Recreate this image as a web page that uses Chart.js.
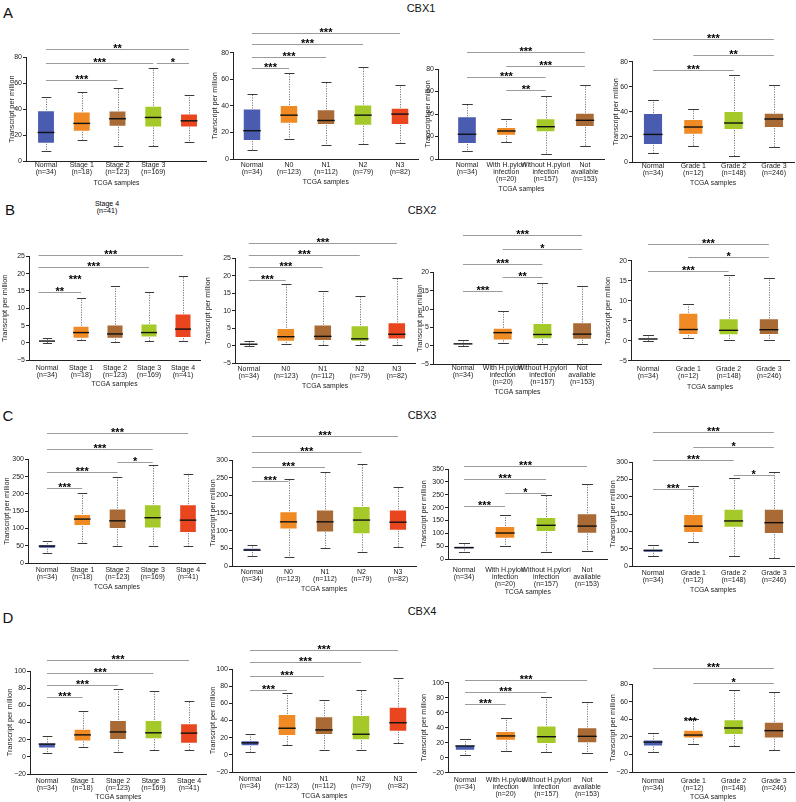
<!DOCTYPE html>
<html><head><meta charset="utf-8">
<script src="https://cdn.jsdelivr.net/npm/chart.js@4.4.0/dist/chart.umd.min.js"></script>
<style>
html,body{margin:0;padding:0;background:#fff;}
body{width:796px;height:802px;position:relative;overflow:hidden;font-family:'Liberation Sans',Arial,sans-serif;color:#111;-webkit-font-smoothing:antialiased;}
canvas{position:absolute;}
.t{position:absolute;transform:translate(-50%,-50%);white-space:nowrap;line-height:1;}
.s{position:absolute;white-space:nowrap;line-height:7px;font-size:7px;color:#000;text-align:center;width:40px;}
</style></head><body>
<div class="t" style="left:8px;top:12px;font-size:15px">A</div>
<div class="t" style="left:10px;top:209px;font-size:15px">B</div>
<div class="t" style="left:8px;top:415px;font-size:15px">C</div>
<div class="t" style="left:8px;top:617px;font-size:15px">D</div>
<div class="t" style="left:421px;top:8px;font-size:11px">CBX1</div>
<div class="t" style="left:422px;top:209.5px;font-size:11px">CBX2</div>
<div class="t" style="left:422px;top:414.5px;font-size:11px">CBX3</div>
<div class="t" style="left:422px;top:611px;font-size:11px">CBX4</div>
<div class="s" style="left:87px;top:200px">Stage 4<br>(n=41)</div>
<script>
// ---- categories ----
const stageCats = [['Normal','(n=34)'],['Stage 1','(n=18)'],['Stage 2','(n=123)'],['Stage 3','(n=169)'],['Stage 4','(n=41)']];
const stageCatsA = [['Normal','(n=34)'],['Stage 1','(n=18)'],['Stage 2','(n=123)'],['Stage 3','(n=169)'],['','']];
const nodeCats = [['Normal','(n=34)'],['N0','(n=123)'],['N1','(n=112)'],['N2','(n=79)'],['N3','(n=82)']];
const hpCats = [['Normal','(n=34)'],['With H.pylori','infection','(n=20)'],['Without H.pylori','infection','(n=157)'],['Not','available','(n=153)']];
const gradeCats = [['Normal','(n=34)'],['Grade 1','(n=12)'],['Grade 2','(n=148)'],['Grade 3','(n=246)']];

// ---- CBX1 ----
const A1_low = [7.4, 16, 11.8, 11.5, 14.4];
const A1_q1 = [13.3, 22.6, 26.4, 25.9, 25.9];
const A1_med = [22, 29, 32.6, 33.6, 31];
const A1_q3 = [39.2, 38.2, 39, 42.6, 36.7];
const A1_high = [49, 53.6, 56, 71.8, 51];
const A1_br = [[0,4,'**',86.2],[0,3,'***',75.9],[3.1,4,'*',75.9],[0,2,'***',62.3]];

const A2_low = [7, 14.8, 10.8, 11.5, 12.3];
const A2_q1 = [13.5, 26.5, 25.6, 25, 25.6];
const A2_med = [21.3, 33, 29, 33, 33.8];
const A2_q3 = [38, 40.6, 37.4, 41, 38.6];
const A2_high = [48.9, 65, 57.7, 69, 55.6];
const A2_br = [[0,4,'***',95],[0,3,'***',86.2],[0,2,'***',76.9],[0,1,'***',68.2]];

const A3_low = [6.8, 14.8, 4.4, 11.5];
const A3_q1 = [13.3, 20.7, 23.7, 28.4];
const A3_med = [22, 24.9, 28.7, 34.4];
const A3_q3 = [38, 28.4, 36.2, 41.2];
const A3_high = [49, 35.6, 56.3, 65.5];
const A3_br = [[0,3,'***',95.1],[1,3,'***',82.9],[0,2,'***',72.6],[1,2,'**',61.3]];

const A4_low = [7.4, 12.8, 5, 11.7];
const A4_q1 = [13.6, 21.8, 25.5, 27.1];
const A4_med = [22, 27.9, 31.1, 34.3];
const A4_q3 = [39, 34.3, 40.7, 39.3];
const A4_high = [49.4, 42, 69, 61.7];
const A4_br = [[0,3,'***',97.8],[1,3,'**',85.3],[0,2,'***',73.4]];

// ---- CBX2 ----
const B1_low = [0.1, 0.8, 0.3, 0.5, 0.65];
const B1_q1 = [0.3, 1.25, 1.25, 1.6, 1.4];
const B1_med = [0.55, 3, 2.6, 3, 4];
const B1_q3 = [0.85, 5, 5.3, 5.6, 8.5];
const B1_high = [1.4, 13, 16.5, 14.7, 19.2];
const B1_br = [[-0.25,4,'***',25.3],[-0.25,3,'***',21.9],[-0.25,1.9,'***',18.3,true],[-0.25,1,'**',14.6]];

const B2_low = [0.05, 0.4, 0.1, 0.2, 0.3];
const B2_q1 = [0.25, 1.15, 1.35, 1.15, 1.8];
const B2_med = [0.45, 2.6, 2.7, 2, 3.3];
const B2_q3 = [0.7, 5.1, 6.1, 5.9, 6.7];
const B2_high = [1.3, 17.8, 15.7, 14.3, 19.5];
const B2_br = [[0,4,'***',29.4],[0,3,'***',25.9],[0,2,'***',22.6],[0,1,'***',18.8]];

const B3_low = [0.1, 0.9, 0.65, 0.4];
const B3_q1 = [0.3, 1.5, 1.8, 1.7];
const B3_med = [0.55, 3.6, 3.1, 3.2];
const B3_q3 = [0.9, 4.9, 6.2, 6.4];
const B3_high = [1.55, 9.5, 17.2, 16.4];
const B3_br = [[0,3,'***',30.2],[1,3,'*',26.3],[0,2,'***',22.2],[1,2,'**',18.7],[0,1,'***',14.9]];

const B4_low = [0, 0.75, 0.25, 0.25];
const B4_q1 = [0.17, 1.4, 1.35, 1.4];
const B4_med = [0.42, 2.8, 2.6, 2.75];
const B4_q3 = [0.75, 7, 5.6, 5.6];
const B4_high = [1.4, 9.2, 16.3, 15.6];
const B4_br = [[0,3,'***',24.1],[1,3,'*',20.9],[0,2,'***',17.5]];

// ---- CBX3 ----
const C1_low = [28, 58.8, 49, 48, 49];
const C1_q1 = [41.5, 107, 98, 100, 87];
const C1_med = [49, 127, 122, 131, 124];
const C1_q3 = [54, 141.7, 158, 170, 170];
const C1_high = [63.6, 202, 248, 283.5, 256.5];
const C1_br = [[0,4,'***',375],[0,3,'***',330],[2,3,'*',293],[0,2,'***',262],[0,1,'***',216]];

const C2_low = [28, 25, 50, 40, 55];
const C2_q1 = [40, 103, 95, 90, 100];
const C2_med = [45, 125, 125, 130, 124];
const C2_q3 = [52, 155, 160, 170, 160];
const C2_high = [60, 245, 265, 290, 225];
const C2_br = [[0,4,'***',368],[0,3,'***',323],[0,2,'***',280],[0,1,'***',241]];

const C3_low = [26, 50.6, 26, 30];
const C3_q1 = [37.6, 79, 105, 98.5];
const C3_med = [44, 101, 131, 128];
const C3_q3 = [52, 128, 163, 178];
const C3_high = [61, 170, 247.5, 290];
const C3_br = [[0,3,'***',363],[0,2,'***',311],[1,2,'*',255.5],[0,1,'***',206]];

const C4_low = [28, 70, 30, 22];
const C4_q1 = [38, 95, 110, 92];
const C4_med = [45, 115, 130, 125];
const C4_q3 = [50, 150, 165, 165];
const C4_high = [62, 232, 255, 270];
const C4_br = [[0,3,'***',386],[1,3,'*',343],[0,2,'***',306],[2,3,'*',262],[0,1,'***',222]];

// ---- CBX4 ----
const D1_low = [3.9, 10.9, 5.5, 8.5, 7.4];
const D1_q1 = [9.7, 17.9, 19.5, 20.5, 15.1];
const D1_med = [14.8, 25.6, 29, 28, 27.6];
const D1_q3 = [16.7, 32.6, 43, 43, 39.2];
const D1_high = [23.7, 53.6, 78.8, 76.5, 64.5];
const D1_br = [[0,4,'***',113],[0,3,'***',98.2],[0,2,'***',83.9],[0,1,'***',69.6]];

const D2_low = [3, 11, 5.6, 5.6, 13.4];
const D2_q1 = [10, 21.8, 23, 17, 27];
const D2_med = [14, 31, 29, 24, 37.4];
const D2_q3 = [17, 47.6, 45, 46.4, 56];
const D2_high = [24, 72, 64, 75.5, 89.5];
const D2_br = [[0,4,'***',122],[0,3,'***',108],[0,2,'***',91.7],[0,1,'***',75.5]];

const D3_low = [3.1, 9.3, 8, 5.8];
const D3_q1 = [9.3, 22.7, 18.3, 19.2];
const D3_med = [15.6, 29, 28, 28.5];
const D3_q3 = [17.3, 35.6, 43.1, 40.5];
const D3_high = [24.5, 52.5, 81, 73.8];
const D3_br = [[0,3,'***',103.6],[0,2,'***',87.2],[0,1,'***',71.2]];

const D4_low = [3, 12, 10, 5];
const D4_q1 = [9, 18, 22, 18];
const D4_med = [14, 22, 30, 27];
const D4_q3 = [17, 28, 40, 37];
const D4_high = [24, 40, 73, 71];
const D4_br = [[0,3,'***',98],[1,3,'*',81],[0,1.85,'***',37,true]];

// ---- styles ----
const BLUE = '#4a5cb0', ORANGE = '#f08a24', BROWN = '#a96a35', LIME = '#a4c928', RED = '#e9461f';
const stageColors = [BLUE, ORANGE, BROWN, LIME, RED];
const hpColors = [BLUE, ORANGE, LIME, BROWN];

Chart.defaults.font.family = "'Liberation Sans', Arial, sans-serif";
Chart.defaults.color = '#222';

function boxPlugin(p) {
  return {
    id: 'box_' + p.id,
    afterDatasetsDraw(chart) {
      const ctx = chart.ctx, xs = chart.scales.x, ys = chart.scales.y;
      const meta = chart.getDatasetMeta(0);
      ctx.save();
      p.cats.forEach((c, i) => {
        const el = meta.data[i];
        const x = Math.round(xs.getPixelForValue(i)) + 0.5;
        const w = el.width;
        const yl = Math.round(ys.getPixelForValue(p.low[i])) + 0.5;
        const y1 = ys.getPixelForValue(p.q1[i]);
        const ym = ys.getPixelForValue(p.med[i]);
        const y3 = ys.getPixelForValue(p.q3[i]);
        const yh = Math.round(ys.getPixelForValue(p.high[i])) + 0.5;
        ctx.lineWidth = 1; ctx.strokeStyle = '#7a7a7a'; ctx.setLineDash([1.2, 1.3]);
        ctx.beginPath(); ctx.moveTo(x, y3); ctx.lineTo(x, yh); ctx.moveTo(x, y1); ctx.lineTo(x, yl); ctx.stroke();
        ctx.setLineDash([]); ctx.strokeStyle = '#3a3a3a';
        const cw = w * 0.27;
        ctx.beginPath(); ctx.moveTo(x - cw, yh); ctx.lineTo(x + cw, yh); ctx.moveTo(x - cw, yl); ctx.lineTo(x + cw, yl); ctx.stroke();
        ctx.strokeStyle = '#111'; ctx.lineWidth = 1.4;
        ctx.beginPath(); ctx.moveTo(el.x - w / 2 + 0.5, ym); ctx.lineTo(el.x + w / 2 - 0.5, ym); ctx.stroke();
      });
      ctx.restore();
    },
    afterDraw(chart) {
      const ctx = chart.ctx, xs = chart.scales.x, ys = chart.scales.y;
      ctx.save();
      p.br.forEach(b => {
        const xa = xs.getPixelForValue(b[0]), xb = xs.getPixelForValue(b[1]);
        const y = Math.round(ys.getPixelForValue(b[3])) + 0.5;
        if (!b[4]) {
          ctx.strokeStyle = '#9c9c9c'; ctx.lineWidth = 1;
          ctx.beginPath(); ctx.moveTo(xa, y); ctx.lineTo(xb, y); ctx.stroke();
        }
        ctx.fillStyle = '#000'; ctx.font = "bold 11px 'Liberation Sans', Arial, sans-serif";
        ctx.textAlign = 'center'; ctx.textBaseline = 'alphabetic';
        ctx.fillText(b[2], (xa + xb) / 2, y + 2.2);
      });
      ctx.restore();
    }
  };
}

function build(p) {
  const g = p.geo, n = p.cats.length;
  const lhY = 7.3, lhX = 6.8;
  const left = Math.round(g.tyX - lhY / 2);
  const Wy = g.x0 - left;
  const a = (g.c0 - g.x0) / g.s;
  const chartW = (n - 1 + a + g.b) * g.s;
  const top = g.top;
  const padTop = g.yTop - top;
  const Hx = g.titleY + lhX / 2 - g.yBot;
  const hExact = g.yBot + Hx - top;
  const H = Math.ceil(hExact);
  const W = Math.ceil(Wy + chartW + 16);
  const cv = document.createElement('canvas');
  cv.width = W; cv.height = H;
  cv.style.left = left + 'px'; cv.style.top = top + 'px';
  cv.style.width = W + 'px'; cv.style.height = H + 'px';
  document.body.appendChild(cv);
  new Chart(cv, {
    type: 'bar',
    data: {
      datasets: [{
        data: p.cats.map((c, i) => ({ x: i, y: [p.q1[i], p.q3[i]] })),
        backgroundColor: p.colors,
        borderColor: 'rgba(255,255,255,0.5)',
        borderWidth: 1,
        borderSkipped: false,
        barPercentage: 0.5,
        categoryPercentage: 1
      }]
    },
    options: {
      responsive: false, animation: false, devicePixelRatio: 1,
      layout: { padding: { top: padTop, left: 0, right: W - Wy - chartW, bottom: H - hExact } },
      plugins: { legend: { display: false }, tooltip: { enabled: false } },
      scales: {
        x: {
          type: 'linear', min: -a, max: n - 1 + g.b, offset: false,
          grid: { display: false, drawTicks: false, offset: false },
          border: { display: true, color: '#222', width: 1 },
          afterBuildTicks: s => { s.ticks = p.cats.map((c, i) => ({ value: i })); },
          afterFit: s => { s.height = Hx; },
          ticks: {
            autoSkip: false, maxRotation: 0, minRotation: 0,
            padding: Math.max(0, g.labelY - g.yBot - 3.5),
            font: { size: 7, lineHeight: '7px' }, color: '#222',
            callback: (v, i) => p.cats[i]
          },
          title: { display: g.showTitle !== false, text: 'TCGA samples', padding: 0, font: { size: 6.8, lineHeight: 1 }, color: '#222' }
        },
        y: {
          type: 'linear', min: p.yMin, max: p.yMax,
          grid: { display: true, drawOnChartArea: false, drawTicks: true, tickLength: 3, color: '#222' },
          border: { display: true, color: '#222', width: 1 },
          afterFit: s => { s.width = Wy; },
          ticks: { stepSize: p.yStep, padding: 1, font: { size: 7 }, color: '#222',
            callback: v => v < 0 ? '\u2212' + Math.abs(v) : String(v) },
          title: { display: true, text: 'Transcript per million', padding: 0, font: { size: 7.3, lineHeight: 1 }, color: '#222' }
        }
      }
    },
    plugins: [boxPlugin(p)]
  });
}

const panels = [
  { id:'A1', cats:stageCatsA, colors:stageColors, low:A1_low, q1:A1_q1, med:A1_med, q3:A1_q3, high:A1_high, br:A1_br, yMin:0, yMax:80, yStep:20,
    geo:{ x0:26, c0:46, s:35.75, b:0.5, yTop:57.3, yBot:161, tyX:12, labelY:165, titleY:183, top:18 } },
  { id:'A2', cats:nodeCats, colors:stageColors, low:A2_low, q1:A2_q1, med:A2_med, q3:A2_q3, high:A2_high, br:A2_br, yMin:0, yMax:80, yStep:20,
    geo:{ x0:233, c0:252, s:37, b:0.5, yTop:52.7, yBot:159, tyX:215, labelY:165, titleY:182, top:18 } },
  { id:'A3', cats:hpCats, colors:hpColors, low:A3_low, q1:A3_q1, med:A3_med, q3:A3_q3, high:A3_high, br:A3_br, yMin:0, yMax:80, yStep:20,
    geo:{ x0:438, c0:467, s:39.3, b:0.5, yTop:69, yBot:159, tyX:428, labelY:165, titleY:189, top:18 } },
  { id:'A4', cats:gradeCats, colors:hpColors, low:A4_low, q1:A4_q1, med:A4_med, q3:A4_q3, high:A4_high, br:A4_br, yMin:0, yMax:80, yStep:20,
    geo:{ x0:632, c0:653, s:40.3, b:0.5, yTop:61.7, yBot:162, tyX:616, labelY:166, titleY:183, top:18 } },

  { id:'B1', cats:stageCats, colors:stageColors, low:B1_low, q1:B1_q1, med:B1_med, q3:B1_q3, high:B1_high, br:B1_br, yMin:-5, yMax:25, yStep:5,
    geo:{ x0:29, c0:47, s:34, b:0.5, yTop:256.3, yBot:360.3, tyX:5, labelY:368, titleY:384, top:220 } },
  { id:'B2', cats:nodeCats, colors:stageColors, low:B2_low, q1:B2_q1, med:B2_med, q3:B2_q3, high:B2_high, br:B2_br, yMin:-5, yMax:25, yStep:5,
    geo:{ x0:235, c0:248.8, s:37, b:0.5, yTop:258.3, yBot:363.3, tyX:208, labelY:368.7, titleY:385.7, top:220 } },
  { id:'B3', cats:hpCats, colors:hpColors, low:B3_low, q1:B3_q1, med:B3_med, q3:B3_q3, high:B3_high, br:B3_br, yMin:-5, yMax:20, yStep:5,
    geo:{ x0:433, c0:463, s:39.7, b:0.5, yTop:272.3, yBot:364.3, tyX:420, labelY:368.3, titleY:392.3, top:220 } },
  { id:'B4', cats:gradeCats, colors:hpColors, low:B4_low, q1:B4_q1, med:B4_med, q3:B4_q3, high:B4_high, br:B4_br, yMin:-5, yMax:20, yStep:5,
    geo:{ x0:631, c0:648, s:40.3, b:0.5, yTop:260.7, yBot:360.7, tyX:608, labelY:369.3, titleY:386.7, top:220 } },

  { id:'C1', cats:stageCats, colors:stageColors, low:C1_low, q1:C1_q1, med:C1_med, q3:C1_q3, high:C1_high, br:C1_br, yMin:0, yMax:300, yStep:50,
    geo:{ x0:28, c0:47, s:35.25, b:0.5, yTop:459.3, yBot:563, tyX:7, labelY:570, titleY:587.3, top:418 } },
  { id:'C2', cats:nodeCats, colors:stageColors, low:C2_low, q1:C2_q1, med:C2_med, q3:C2_q3, high:C2_high, br:C2_br, yMin:0, yMax:300, yStep:50,
    geo:{ x0:232, c0:252, s:36.5, b:0.5, yTop:460, yBot:566, tyX:213, labelY:572, titleY:589, top:418 } },
  { id:'C3', cats:hpCats, colors:hpColors, low:C3_low, q1:C3_q1, med:C3_med, q3:C3_q3, high:C3_high, br:C3_br, yMin:0, yMax:350, yStep:50,
    geo:{ x0:448, c0:464, s:41, b:0.5, yTop:469, yBot:559, tyX:424, labelY:570, titleY:591.7, top:418 } },
  { id:'C4', cats:gradeCats, colors:hpColors, low:C4_low, q1:C4_q1, med:C4_med, q3:C4_q3, high:C4_high, br:C4_br, yMin:0, yMax:300, yStep:50,
    geo:{ x0:632, c0:653, s:40.3, b:0.5, yTop:462, yBot:566, tyX:613, labelY:573, titleY:590, top:418 } },

  { id:'D1', cats:stageCats, colors:stageColors, low:D1_low, q1:D1_q1, med:D1_med, q3:D1_q3, high:D1_high, br:D1_br, yMin:-20, yMax:100, yStep:20,
    geo:{ x0:30, c0:47, s:35.5, b:0.5, yTop:671, yBot:774, tyX:10, labelY:781, titleY:796.7, top:632 } },
  { id:'D2', cats:nodeCats, colors:stageColors, low:D2_low, q1:D2_q1, med:D2_med, q3:D2_q3, high:D2_high, br:D2_br, yMin:-20, yMax:100, yStep:20,
    geo:{ x0:232, c0:250, s:37, b:0.5, yTop:669, yBot:772, tyX:213, labelY:779, titleY:796, top:632 } },
  { id:'D3', cats:hpCats, colors:hpColors, low:D3_low, q1:D3_q1, med:D3_med, q3:D3_q3, high:D3_high, br:D3_br, yMin:-20, yMax:100, yStep:20,
    geo:{ x0:448, c0:465, s:40.7, b:0.5, yTop:682.7, yBot:772.7, tyX:424, labelY:780, titleY:806, top:632, showTitle:false } },
  { id:'D4', cats:gradeCats, colors:hpColors, low:D4_low, q1:D4_q1, med:D4_med, q3:D4_q3, high:D4_high, br:D4_br, yMin:-20, yMax:80, yStep:20,
    geo:{ x0:632, c0:653, s:40.3, b:0.5, yTop:684, yBot:772, tyX:613, labelY:781, titleY:797, top:632 } }
];

panels.forEach(build);
</script>
</body></html>
